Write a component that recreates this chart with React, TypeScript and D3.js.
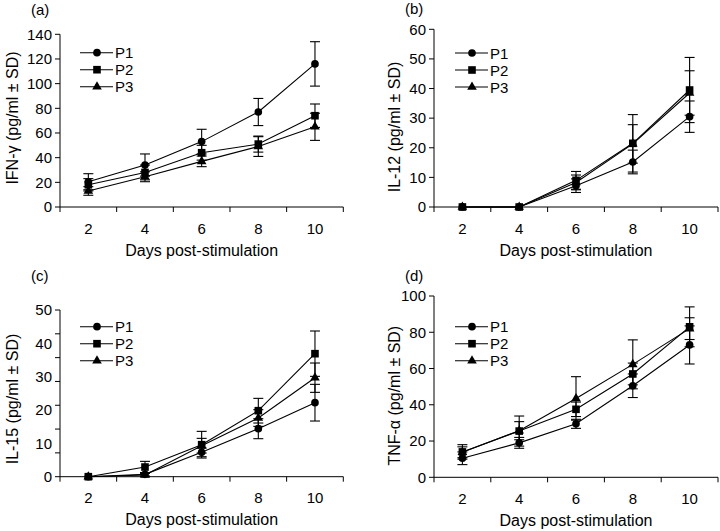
import React from "react";
import * as d3 from "d3";

const days = ["2", "4", "6", "8", "10"];
const seriesNames = ["P1", "P2", "P3"];

// (a) IFN-γ
const ifnMean = [
  [20.5, 34, 53, 77, 116],
  [18, 28, 44, 51, 74],
  [13, 24.5, 37, 49, 65],
];
const ifnSD = [
  [6.5, 9, 10, 11, 18],
  [5, 6, 6, 6.5, 9.5],
  [3.5, 4, 4.3, 8, 11],
];
// (b) IL-12
const il12Mean = [
  [0, 0, 7.2, 15.2, 30.5],
  [0, 0, 9, 21.5, 39.5],
  [0, 0, 8.3, 21.3, 38.5],
];
const il12SD = [
  [0, 0, 2.3, 4, 5.3],
  [0, 0, 3, 9.7, 11],
  [0, 0, 2.5, 6.5, 7.5],
];
// (c) IL-15
const il15Mean = [
  [0, 0.7, 7.3, 14.4, 22.2],
  [0, 2.9, 9.6, 19.8, 36.9],
  [0, 0.5, 9.3, 17.6, 29.7],
];
const il15SD = [
  [0, 0.5, 1.3, 3, 5.5],
  [0, 1.7, 4, 3.7, 6.8],
  [0, 0.5, 2.2, 2.5, 4.4],
];
// (d) TNF-α
const tnfMean = [
  [10.5, 19, 29.5, 50.5, 73],
  [14, 25.5, 37.5, 57, 83],
  [13.8, 25.7, 43.5, 62.3, 82],
];
const tnfSD = [
  [3.5, 3, 2.5, 6.5, 10.5],
  [4, 8.3, 4, 6, 11],
  [3, 5, 12, 13.5, 6],
];

const ticksA = [0, 20, 40, 60, 80, 100, 120, 140];
const ticksB = [0, 10, 20, 30, 40, 50, 60];
const labelsC = [0, 10, 20, 30, 40, 50];
const marksC = [0, 1, 2, 3, 4, 5, 6, 7].map((i) => (i * 50) / 7);
const ticksD = [0, 20, 40, 60, 80, 100];

const FONT = "'Liberation Sans', Arial, Helvetica, sans-serif";
const TICK_FS = 15;
const TITLE_FS = 16;

const symbolTypes = [d3.symbolCircle, d3.symbolSquare, d3.symbolTriangle];
const symbolSizes = [46, 58, 40];

function Marker({ i, x, y }: { i: number; x: number; y: number }) {
  const p = d3.symbol().type(symbolTypes[i]).size(symbolSizes[i])() as string;
  return <path d={p} transform={`translate(${x},${y})`} fill="#000" />;
}

type PanelProps = {
  letter: string;
  yTitle: string;
  means: number[][];
  sds: number[][];
  yMax: number;
  yLabels: number[];
  yMarks: number[];
  left: number;
  right: number;
  bottom: number;
  top: number;
  titleX: number;
  titleY: number;
  letterX: number;
  letterY: number;
  legendX: number;
  legendY: number;
};

function Panel(p: PanelProps) {
  const x = d3.scaleBand<string>().domain(days).range([p.left, p.right]).padding(0);
  const y = d3.scaleLinear().domain([0, p.yMax]).range([p.bottom, p.top]);
  const cx = (d: string) => (x(d) as number) + x.bandwidth() / 2;
  const line = d3
    .line<number>()
    .x((_, j) => cx(days[j]))
    .y((v) => y(v));
  const bounds = [...days.map((d) => x(d) as number), p.right];
  const cap = 5;
  return (
    <g fontFamily={FONT} fill="#000">
      <text x={p.letterX} y={p.letterY} fontSize={TICK_FS}>
        {p.letter}
      </text>
      {/* axes */}
      <line x1={p.left} x2={p.left} y1={p.bottom} y2={y(p.yMax)} stroke="#000" strokeWidth={1} />
      <line x1={p.left} x2={p.right} y1={p.bottom} y2={p.bottom} stroke="#000" strokeWidth={1} />
      {p.yMarks.map((t, k) => (
        <line key={"ym" + k} x1={p.left - 5} x2={p.left} y1={y(t)} y2={y(t)} stroke="#000" />
      ))}
      {p.yLabels.map((t) => (
        <text key={"yl" + t} x={p.left - 8} y={y(t) + 5.3} fontSize={TICK_FS} textAnchor="end">
          {t}
        </text>
      ))}
      {bounds.map((b, k) => (
        <line key={"xm" + k} x1={b} x2={b} y1={p.bottom} y2={p.bottom + 5} stroke="#000" />
      ))}
      {days.map((d) => (
        <text key={"xl" + d} x={cx(d)} y={p.bottom + 26.5} fontSize={TICK_FS} textAnchor="middle">
          {d}
        </text>
      ))}
      <text
        x={(p.left + p.right) / 2}
        y={p.bottom + 48.5}
        fontSize={TITLE_FS}
        textAnchor="middle"
      >
        Days post-stimulation
      </text>
      <text
        transform={`translate(${p.titleX},${p.titleY}) rotate(-90)`}
        fontSize={TITLE_FS}
        textAnchor="middle"
      >
        {p.yTitle}
      </text>
      {/* lines */}
      {p.means.map((m, i) => (
        <path key={"ln" + i} d={line(m) as string} fill="none" stroke="#000" strokeWidth={1.1} />
      ))}
      {/* error bars */}
      {p.means.map((m, i) =>
        m.map((v, j) => {
          const s = p.sds[i][j];
          if (s <= 0) return null;
          const xx = cx(days[j]);
          return (
            <g key={`eb${i}-${j}`} stroke="#000" strokeWidth={1.1}>
              <line x1={xx} x2={xx} y1={y(v - s)} y2={y(v + s)} />
              <line x1={xx - cap} x2={xx + cap} y1={y(v + s)} y2={y(v + s)} />
              <line x1={xx - cap} x2={xx + cap} y1={y(v - s)} y2={y(v - s)} />
            </g>
          );
        })
      )}
      {/* markers */}
      {p.means.map((m, i) =>
        m.map((v, j) => <Marker key={`mk${i}-${j}`} i={i} x={cx(days[j])} y={y(v)} />)
      )}
      {/* legend */}
      {seriesNames.map((n, i) => {
        const ly = p.legendY + i * 17;
        return (
          <g key={"lg" + n}>
            <line x1={p.legendX} x2={p.legendX + 33} y1={ly} y2={ly} stroke="#000" strokeWidth={1.1} />
            <Marker i={i} x={p.legendX + 17} y={ly} />
            <text x={p.legendX + 35} y={ly + 5.5} fontSize={TICK_FS}>
              {n}
            </text>
          </g>
        );
      })}
    </g>
  );
}

export default function App() {
  return (
    <svg
      width={720}
      height={531}
      style={{ position: "absolute", left: 0, top: 0, background: "#fff" }}
    >
      <rect width={720} height={531} fill="#fff" />
      <Panel
        letter="(a)"
        yTitle="IFN-γ (pg/ml ± SD)"
        means={ifnMean}
        sds={ifnSD}
        yMax={140}
        yLabels={ticksA}
        yMarks={ticksA}
        left={60}
        right={343.3}
        bottom={207}
        top={34.3}
        titleX={18}
        titleY={118}
        letterX={31}
        letterY={15}
        legendX={80}
        legendY={52.7}
      />
      <Panel
        letter="(b)"
        yTitle="IL-12 (pg/ml ± SD)"
        means={il12Mean}
        sds={il12SD}
        yMax={60}
        yLabels={ticksB}
        yMarks={ticksB}
        left={434}
        right={718}
        bottom={207}
        top={29.3}
        titleX={399.5}
        titleY={127}
        letterX={405}
        letterY={14}
        legendX={455}
        legendY={53}
      />
      <Panel
        letter="(c)"
        yTitle="IL-15 (pg/ml ± SD)"
        means={il15Mean}
        sds={il15SD}
        yMax={50}
        yLabels={labelsC}
        yMarks={marksC}
        left={60}
        right={343.3}
        bottom={476.7}
        top={310}
        titleX={17.5}
        titleY={399}
        letterX={31}
        letterY={281}
        legendX={80}
        legendY={326.7}
      />
      <Panel
        letter="(d)"
        yTitle="TNF-α (pg/ml ± SD)"
        means={tnfMean}
        sds={tnfSD}
        yMax={100}
        yLabels={ticksD}
        yMarks={ticksD}
        left={434}
        right={718}
        bottom={477.3}
        top={296}
        titleX={400}
        titleY={395.7}
        letterX={405}
        letterY={281}
        legendX={455}
        legendY={326.7}
      />
    </svg>
  );
}
